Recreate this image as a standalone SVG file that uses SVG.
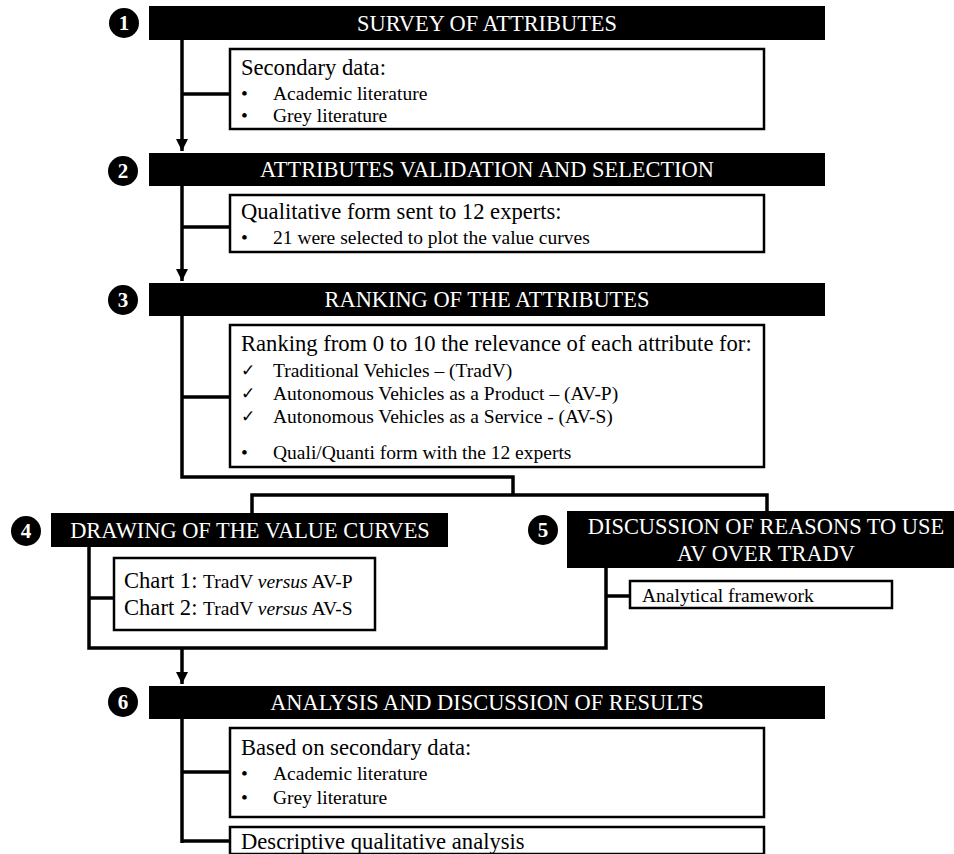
<svg xmlns="http://www.w3.org/2000/svg" width="954" height="854" viewBox="0 0 954 854">
<style>
.bar{fill:#000}
.ht{font-family:"Liberation Serif","Times New Roman",serif;font-size:22.4px;fill:#fff;text-anchor:middle}
.num{font-family:"Liberation Serif","Times New Roman",serif;font-size:21px;font-weight:bold;fill:#fff;text-anchor:middle}
.box{fill:#fff;stroke:#000;stroke-width:2.5}
.t1{font-family:"Liberation Serif","Times New Roman",serif;font-size:22.6px;fill:#000}
.t2{font-family:"Liberation Serif","Times New Roman",serif;font-size:19.5px;fill:#000}
.ck{font-family:"DejaVu Sans",sans-serif;font-size:17px;fill:#000}
.ln{fill:none;stroke:#000;stroke-width:3.5}
</style>
<defs>
<marker id="arr" markerUnits="userSpaceOnUse" markerWidth="14" markerHeight="12" refX="12" refY="6" orient="auto">
<path d="M0,0 L12,6 L0,12 Z" fill="#000"/>
</marker>
</defs>
<rect width="954" height="854" fill="#fff"/>

<g id="connectors">
<path class="ln" d="M182,40 V151" marker-end="url(#arr)"/>
<path class="ln" d="M182,94 H229"/>
<path class="ln" d="M182,186 V281" marker-end="url(#arr)"/>
<path class="ln" d="M182,227 H229"/>
<path class="ln" d="M182,316 V477 H513 V495"/>
<path class="ln" d="M182,397 H229"/>
<path class="ln" d="M252,513 V495 H767 V511"/>
<path class="ln" d="M89,547 V648 H606 V568"/>
<path class="ln" d="M89,598 H114"/>
<path class="ln" d="M606,596 H630"/>
<path class="ln" d="M182,648 V684" marker-end="url(#arr)"/>
<path class="ln" d="M182,719 V843"/>
<path class="ln" d="M182,772 H229"/>
<path class="ln" d="M182,841 H229"/>
</g>

<g id="step1">
<rect class="bar" x="149" y="6" width="676" height="34"/>
<text class="ht" x="487" y="30.5">SURVEY OF ATTRIBUTES</text>
<circle cx="124" cy="23" r="15" fill="#000"/>
<text class="num" x="124" y="30">1</text>
</g>
<g id="box1">
<rect class="box" x="230" y="49" width="534" height="80"/>
<text class="t1" x="241" y="75">Secondary data:</text>
<text class="t2" x="241" y="100">•</text>
<text class="t2" x="273" y="100">Academic literature</text>
<text class="t2" x="241" y="122">•</text>
<text class="t2" x="273" y="122">Grey literature</text>
</g>

<g id="step2">
<rect class="bar" x="149" y="153" width="676" height="33"/>
<text class="ht" x="487" y="177">ATTRIBUTES VALIDATION AND SELECTION</text>
<circle cx="123" cy="171" r="15" fill="#000"/>
<text class="num" x="123" y="178">2</text>
</g>
<g id="box2">
<rect class="box" x="230" y="195" width="534" height="57"/>
<text class="t1" x="241" y="219">Qualitative form sent to 12 experts:</text>
<text class="t2" x="241" y="244">•</text>
<text class="t2" x="273" y="244">21 were selected to plot the value curves</text>
</g>

<g id="step3">
<rect class="bar" x="149" y="283" width="676" height="33"/>
<text class="ht" x="487" y="307">RANKING OF THE ATTRIBUTES</text>
<circle cx="123" cy="300" r="15" fill="#000"/>
<text class="num" x="123" y="307">3</text>
</g>
<g id="box3">
<rect class="box" x="230" y="325" width="534" height="142"/>
<text class="t1" x="241" y="351">Ranking from 0 to 10 the relevance of each attribute for:</text>
<text class="ck" x="241" y="376">✓</text>
<text class="t2" x="273" y="377">Traditional Vehicles – (TradV)</text>
<text class="ck" x="241" y="399">✓</text>
<text class="t2" x="273" y="400">Autonomous Vehicles as a Product – (AV-P)</text>
<text class="ck" x="241" y="422">✓</text>
<text class="t2" x="273" y="423">Autonomous Vehicles as a Service - (AV-S)</text>
<text class="t2" x="241" y="459">•</text>
<text class="t2" x="273" y="459">Quali/Quanti form with the 12 experts</text>
</g>

<g id="step4">
<rect class="bar" x="51" y="513" width="397" height="34"/>
<text class="ht" x="250" y="538">DRAWING OF THE VALUE CURVES</text>
<circle cx="26" cy="531" r="15" fill="#000"/>
<text class="num" x="26" y="538">4</text>
</g>
<g id="box4">
<rect class="box" x="114" y="558" width="261" height="72"/>
<text class="t1" x="124" y="588">Chart 1: <tspan class="t2">TradV <tspan font-style="italic">versus</tspan> AV-P</tspan></text>
<text class="t1" x="124" y="615">Chart 2: <tspan class="t2">TradV <tspan font-style="italic">versus</tspan> AV-S</tspan></text>
</g>

<g id="step5">
<rect class="bar" x="567" y="511" width="400" height="57"/>
<text class="ht" x="766" y="534">DISCUSSION OF REASONS TO USE</text>
<text class="ht" x="766" y="561">AV OVER TRADV</text>
<circle cx="543" cy="530" r="15" fill="#000"/>
<text class="num" x="543" y="537">5</text>
</g>
<g id="box5">
<rect class="box" x="630" y="581" width="262" height="27"/>
<text class="t2" x="642" y="602">Analytical framework</text>
</g>

<g id="step6">
<rect class="bar" x="149" y="686" width="676" height="33"/>
<text class="ht" x="487" y="710">ANALYSIS AND DISCUSSION OF RESULTS</text>
<circle cx="123" cy="702" r="15" fill="#000"/>
<text class="num" x="123" y="709">6</text>
</g>
<g id="box6a">
<rect class="box" x="230" y="728" width="534" height="89"/>
<text class="t1" x="241" y="755">Based on secondary data:</text>
<text class="t2" x="241" y="780">•</text>
<text class="t2" x="273" y="780">Academic literature</text>
<text class="t2" x="241" y="804">•</text>
<text class="t2" x="273" y="804">Grey literature</text>
</g>
<g id="box6b">
<rect class="box" x="230" y="827" width="534" height="27"/>
<text class="t1" x="241" y="849">Descriptive qualitative analysis</text>
</g>
</svg>
